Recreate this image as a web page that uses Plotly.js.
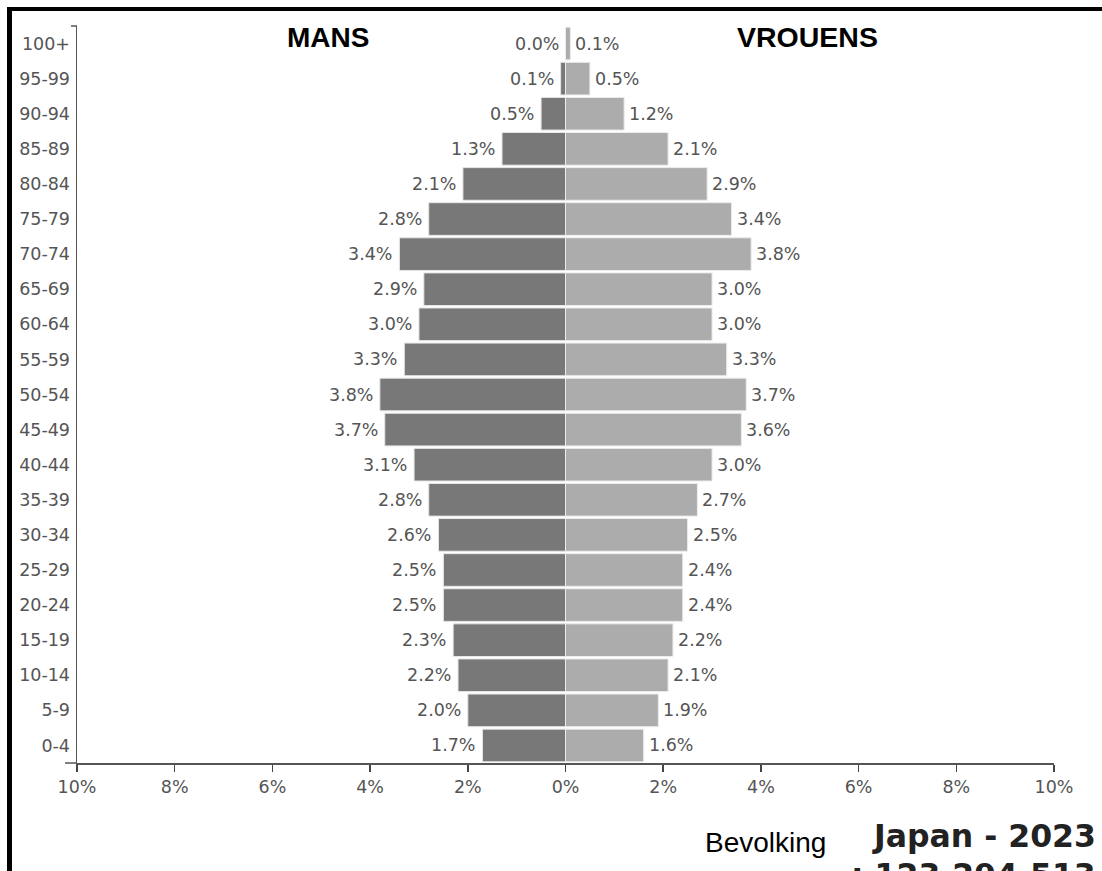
<!DOCTYPE html>
<html>
<head>
<meta charset="utf-8">
<script src="https://cdn.plot.ly/plotly-3.0.1.min.js"></script>
<style>
  html, body { margin: 0; padding: 0; background: #fff; }
  #wrap { position: relative; width: 1102px; height: 871px; overflow: hidden; }
  #chart { position: absolute; left: 0; top: 0; width: 1102px; height: 871px; }
  #frame { position: absolute; left: 7px; top: 7px; width: 1090px; height: 900px;
           border-top: 4px solid #000; border-left: 5px solid #000; border-right: 1px solid #ccc;
           pointer-events: none; }
</style>
</head>
<body>
<div id="wrap">
  <div id="chart"></div>
  <div id="frame"></div>
</div>
<script>
// Age groups (bottom to top)
const ageGroups = ['0-4','5-9','10-14','15-19','20-24','25-29','30-34','35-39','40-44','45-49',
                   '50-54','55-59','60-64','65-69','70-74','75-79','80-84','85-89','90-94','95-99','100+'];
// Percent of total population
const malePct   = [1.7, 2.0, 2.2, 2.3, 2.5, 2.5, 2.6, 2.8, 3.1, 3.7, 3.8, 3.3, 3.0, 2.9, 3.4, 2.8, 2.1, 1.3, 0.5, 0.1, 0.0];
const femalePct = [1.6, 1.9, 2.1, 2.2, 2.4, 2.4, 2.5, 2.7, 3.0, 3.6, 3.7, 3.3, 3.0, 3.0, 3.8, 3.4, 2.9, 2.1, 1.2, 0.5, 0.1];
// Axis ticks
const xTickVals = [-10, -8, -6, -4, -2, 0, 2, 4, 6, 8, 10];
const xTickText = ['10%','8%','6%','4%','2%','0%','2%','4%','6%','8%','10%'];
// Texts
const leftTitle = 'MANS';
const rightTitle = 'VROUENS';
const popLabel = 'Bevolking';
const countryLine = 'Japan - 2023';
const popLine = ': 123.294.513';

const W = 1102, H = 871;
const mL = 77, mR = W - 1054.5, mT = 26, mB = H - 763;
const pw = W - mL - mR, ph = H - mT - mB;
const px = v => (v - mL) / pw;
const py = v => (H - mB - v) / ph;

const labelFont = {family: 'DejaVu Sans', size: 17.5, color: '#555'};

const traces = [
  {
    type: 'bar', orientation: 'h', y: ageGroups, x: malePct.map(v => -v),
    marker: {color: '#787878', line: {color: '#e6e6e6', width: 1}},
    hoverinfo: 'skip', showlegend: false
  },
  {
    type: 'bar', orientation: 'h', y: ageGroups, x: femalePct,
    marker: {color: '#acacac', line: {color: '#ececec', width: 1}},
    hoverinfo: 'skip', showlegend: false
  }
];

const valueLabels = [];
ageGroups.forEach((g, i) => {
  valueLabels.push({xref: 'x', yref: 'y', x: -malePct[i], y: g, xanchor: 'right', yanchor: 'middle',
    xshift: -5, text: malePct[i].toFixed(1) + '%', showarrow: false, font: labelFont});
  valueLabels.push({xref: 'x', yref: 'y', x: femalePct[i], y: g, xanchor: 'left', yanchor: 'middle',
    xshift: 3, text: femalePct[i].toFixed(1) + '%', showarrow: false, font: labelFont});
});

const layout = {
  width: W, height: H,
  margin: {l: mL, r: mR, t: mT, b: mB, pad: 0},
  paper_bgcolor: '#fff', plot_bgcolor: '#fff',
  barmode: 'overlay', bargap: 0.07,
  font: {family: 'DejaVu Sans', color: '#555'},
  xaxis: {
    range: [-10, 10], tickvals: xTickVals, ticktext: xTickText,
    showgrid: false, zeroline: false, showline: true, linecolor: '#555', linewidth: 1.5,
    ticks: 'outside', ticklen: 7, tickwidth: 1.5, tickcolor: '#444',
    tickfont: {family: 'DejaVu Sans', size: 17.5, color: '#555'}, fixedrange: true
  },
  yaxis: {
    type: 'category', range: [-0.5, 20.5],
    showgrid: false, zeroline: false, showline: true, linecolor: '#555', linewidth: 1.5,
    ticks: 'outside', ticklen: 2, tickcolor: 'rgba(0,0,0,0)',
    tickfont: {family: 'DejaVu Sans', size: 17.5, color: '#555'}, fixedrange: true
  },
  shapes: [
    {type: 'line', xref: 'paper', yref: 'paper', x0: px(65), x1: 0, y0: 0, y1: 0,
     line: {color: '#555', width: 1.5}},
    {type: 'line', xref: 'paper', yref: 'paper', x0: px(71), x1: 0, y0: 1, y1: 1,
     line: {color: '#555', width: 1.5}}
  ],
  annotations: valueLabels.concat([
    {xref: 'paper', yref: 'paper', x: px(328), y: py(37), xanchor: 'center', yanchor: 'middle',
     text: '<b>' + leftTitle + '</b>', showarrow: false,
     font: {family: 'Liberation Sans', size: 28, color: '#000'}},
    {xref: 'paper', yref: 'paper', x: px(808), y: py(37), xanchor: 'center', yanchor: 'middle',
     text: '<b>' + rightTitle + '</b>', showarrow: false,
     font: {family: 'Liberation Sans', size: 28.5, color: '#000'}},
    {xref: 'paper', yref: 'paper', x: px(703), y: py(842), xanchor: 'left', yanchor: 'middle',
     text: popLabel, showarrow: false,
     font: {family: 'Liberation Sans', size: 28, color: '#000'}},
    {xref: 'paper', yref: 'paper', x: px(1099), y: py(836), xanchor: 'right', yanchor: 'middle',
     text: '<b>' + countryLine + '</b>', showarrow: false,
     font: {family: 'DejaVu Sans', size: 31.5, color: '#222'}},
    {xref: 'paper', yref: 'paper', x: px(1099), y: py(875), xanchor: 'right', yanchor: 'middle',
     text: '<b>' + popLine + '</b>', showarrow: false,
     font: {family: 'DejaVu Sans', size: 31.5, color: '#222'}}
  ])
};

Plotly.newPlot('chart', traces, layout, {staticPlot: true, displayModeBar: false});
</script>
</body>
</html>
